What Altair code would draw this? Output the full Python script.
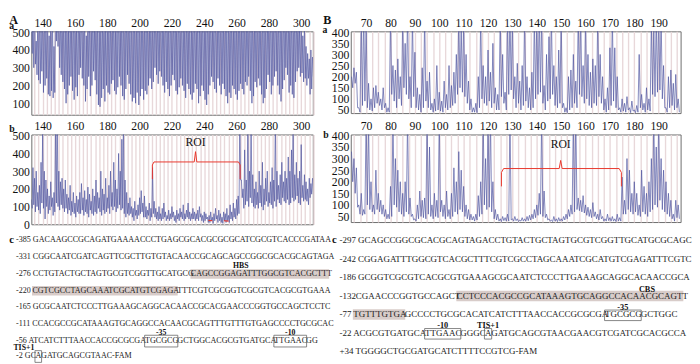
import altair as alt
import pandas as pd

SERIF = "Liberation Serif"
TRACE = "#5055a0"
STRIPE = "#e8d8da"
RED = "#e8352a"

# ---------------- electropherogram traces (peak at x, trough at x+0.5) ----------------
A_X0 = 133
Aa_peaks = [560, 620, 700, 450, 600, 680, 520, 640, 700, 580,
            650, 480, 600, 700, 420, 700, 720, 650, 600, 700,
            640, 580, 700, 520, 660, 600, 700, 640, 560, 700,
            620, 700, 580, 650, 480, 700, 600, 660, 700, 540,
            700, 620, 560, 680, 600, 700, 520, 640, 700, 600,
            660, 700, 580, 620, 700, 540, 680, 700, 600, 650,
            700, 600, 660, 520, 700, 640, 580, 700, 620, 680,
            600, 700, 640, 560, 700, 620, 680, 700, 600, 660,
            700, 580, 640, 700, 600, 660, 700, 540, 620, 700,
            640, 700, 600, 680, 560, 700, 620, 700, 650, 590,
            700, 640, 580, 700, 620, 680, 700, 600, 660, 700,
            620, 700, 560, 640, 700, 600, 680, 700, 620, 580,
            700, 640, 600, 700, 660, 580, 700, 620, 680, 700,
            600, 680, 700, 560, 640, 700, 620, 700, 580, 660,
            700, 620, 580, 700, 640, 700, 600, 660, 700, 620,
            680, 700, 600, 640, 700, 560, 680, 700, 620, 600,
            700, 640, 580, 700, 620, 660, 520, 600, 480, 560,
            420, 380, 350, 400, 360]
Aa_troughs = [380, 300, 320, 260, 230, 210, 280, 160, 200, 240,
              150, 140, 170, 130, 160, 450, 420, 300, 260, 220,
              180, 100, 150, 200, 250, 170, 120, 190, 140, 260,
              300, 240, 200, 110, 180, 250, 140, 200, 280, 230,
              150, 90, 80, 130, 180, 110, 200, 160, 150, 210,
              230, 170, 150, 190, 250, 200, 140, 120, 180, 260,
              210, 150, 110, 130, 100, 160, 90, 140, 180, 120,
              170, 150, 200, 240, 180, 220, 300, 260, 210, 280,
              250, 200, 160, 220, 180, 140, 200, 260, 230, 170,
              150, 190, 240, 200, 170, 130, 210, 180, 150, 120,
              160, 210, 180, 100, 140, 200, 170, 120, 90, 150,
              200, 250, 220, 180, 160, 240, 200, 150, 210, 180,
              140, 100, 160, 130, 200, 180, 150, 120, 170, 210,
              180, 150, 220, 200, 250, 170, 100, 140, 220, 190,
              240, 200, 150, 100, 130, 180, 260, 220, 150, 200,
              250, 280, 200, 150, 110, 180, 230, 300, 260, 160,
              200, 150, 130, 220, 280, 300, 250, 270, 220, 240,
              200, 240, 150, 180, 250]
Ab_peaks = [140, 320, 260, 300, 180, 220, 350, 520, 300, 250,
            200, 160, 240, 150, 180, 600, 650, 300, 240, 260,
            200, 250, 170, 150, 220, 130, 180, 120, 160, 140,
            180, 230, 150, 190, 140, 210, 170, 130, 200, 160,
            250, 180, 150, 300, 200, 170, 260, 150, 220, 300,
            180, 350, 250, 200, 400, 300, 480, 620, 250, 180,
            120, 150, 100, 90, 130, 80, 110, 150, 190, 120,
            160, 100, 80, 120, 90, 320, 130, 90, 70, 100,
            60, 90, 120, 70, 50, 80, 60, 100, 70, 50,
            80, 60, 90, 70, 110, 60, 80, 120, 70, 60,
            90, 70, 60, 80, 100, 60, 50, 70, 60, 40,
            50, 70, 40, 60, 90, 50, 80, 60, 40, 70,
            60, 90, 50, 110, 70, 120, 90, 140, 160, 620,
            250, 200, 420, 250, 650, 300, 620, 280, 200, 240,
            180, 300, 220, 350, 200, 260, 300, 180, 240, 320,
            250, 600, 300, 220, 280, 350, 240, 300, 260, 380,
            300, 420, 600, 280, 350, 260, 300, 450, 220, 280,
            240, 200, 260, 230, 260]
Ab_troughs = [90, 110, 70, 100, 80, 60, 120, 90, 30, 100,
              60, 80, 100, 50, 70, 120, 100, 80, 110, 90,
              70, 90, 60, 80, 50, 70, 60, 40, 70, 60,
              60, 80, 50, 70, 60, 40, 80, 60, 50, 70,
              60, 90, 70, 50, 80, 60, 70, 90, 60, 100,
              80, 100, 70, 90, 110, 80, 90, 60, 40, 60,
              50, 60, 40, 20, 50, 30, 50, 60, 70, 40,
              40, 30, 50, 20, 40, 60, 40, 30, 20, 30,
              20, 30, 40, 20, 30, 20, 30, 40, 20, 10,
              30, 20, 40, 30, 20, 30, 40, 30, 20, 30,
              30, 20, 30, 20, 40, 20, 10, 20, 30, 10,
              10, 20, 5, 20, 30, 10, 20, 10, 5, 20,
              10, 20, 10, 30, 20, 40, 30, 50, 60, 250,
              150, 90, 110, 130, 100, 150, 120, 100, 90, 110,
              90, 120, 100, 80, 110, 130, 100, 120, 110, 90,
              130, 100, 140, 120, 110, 150, 130, 120, 140, 110,
              120, 150, 130, 140, 160, 120, 110, 150, 130, 140,
              130, 110, 150, 170, 180]

B_X0 = 64
Ba_peaks = [200, 240, 220, 60, 480, 500, 450, 170, 100, 150,
            160, 130, 100, 150, 80, 60, 480, 250, 230, 280,
            200, 480, 350, 500, 200, 480, 310, 150, 120, 240,
            480, 180, 220, 80, 100, 250, 130, 90, 180, 120,
            250, 160, 220, 300, 480, 420, 460, 300, 180, 100,
            60, 80, 200, 480, 250, 200, 320, 220, 350, 150,
            120, 480, 300, 130, 480, 500, 460, 200, 260, 180,
            250, 480, 200, 150, 220, 480, 460, 500, 480, 160,
            300, 380, 480, 250, 200, 320, 480, 80, 60, 200,
            230, 300, 180, 480, 500, 250, 480, 300, 220, 280,
            250, 480, 300, 200, 100, 150, 330, 480, 330, 200,
            60, 100, 80, 110, 60, 90, 50, 70, 300, 120,
            80, 150, 100, 450, 420, 480, 500, 480, 250, 60,
            200, 230, 170, 210, 100]
Ba_troughs = [150, 170, 60, 40, 70, 90, 60, 50, 45, 60,
              80, 70, 50, 60, 40, 40, 120, 90, 60, 100,
              70, 150, 120, 100, 60, 110, 60, 50, 40, 60,
              90, 60, 50, 40, 45, 50, 45, 40, 60, 50,
              60, 70, 80, 120, 150, 130, 110, 80, 50, 40,
              40, 38, 60, 100, 80, 70, 90, 60, 80, 50,
              50, 110, 80, 50, 120, 140, 100, 60, 80, 50,
              70, 90, 60, 50, 60, 100, 120, 130, 80, 50,
              90, 100, 120, 70, 60, 80, 60, 40, 38, 50,
              60, 80, 60, 120, 110, 80, 100, 70, 60, 80,
              70, 110, 80, 50, 40, 50, 70, 90, 60, 50,
              40, 45, 40, 50, 38, 45, 38, 40, 60, 50,
              40, 50, 45, 120, 110, 130, 140, 100, 60, 40,
              60, 70, 50, 60, 40]
Bb_peaks = [330, 300, 260, 100, 150, 80, 480, 450, 200, 100,
            250, 150, 120, 100, 80, 60, 180, 480, 300, 250,
            200, 150, 200, 480, 130, 60, 40, 100, 160, 120,
            130, 480, 350, 100, 150, 120, 480, 120, 100, 160,
            80, 150, 260, 200, 330, 250, 180, 100, 80, 60,
            50, 60, 140, 200, 480, 300, 480, 480, 200, 80,
            60, 40, 50, 45, 60, 480, 40, 50, 40, 35,
            45, 40, 50, 55, 60, 80, 100, 150, 480, 160,
            60, 40, 35, 50, 40, 45, 40, 50, 60, 80,
            100, 480, 480, 130, 120, 140, 100, 90, 80, 110,
            70, 60, 80, 50, 40, 60, 45, 50, 40, 60,
            45, 220, 120, 300, 250, 150, 200, 150, 100, 250,
            180, 150, 200, 300, 480, 350, 480, 300, 250, 200,
            150, 120, 60, 120, 100]
Bb_troughs = [200, 150, 90, 60, 55, 60, 100, 80, 70, 60,
              80, 70, 60, 50, 40, 40, 50, 100, 90, 70,
              60, 50, 70, 60, 50, 35, 30, 40, 50, 45,
              40, 60, 50, 40, 50, 45, 70, 50, 40, 50,
              40, 50, 70, 60, 80, 70, 50, 40, 35, 35,
              30, 35, 50, 60, 100, 80, 90, 70, 40, 35,
              30, 28, 32, 30, 30, 35, 30, 32, 28, 30,
              30, 30, 32, 35, 40, 45, 55, 60, 50, 45,
              35, 30, 28, 30, 28, 30, 30, 35, 40, 50,
              60, 70, 80, 75, 70, 65, 55, 50, 45, 50,
              40, 35, 40, 30, 30, 32, 30, 30, 28, 30,
              30, 60, 60, 80, 70, 60, 70, 55, 50, 70,
              60, 50, 70, 80, 100, 90, 120, 80, 70, 60,
              50, 40, 30, 45, 40]

# ROI braces (x in base positions, y in signal units)
A_roi_x = [207.9, 207.9, 208.9, 233.8, 234.6, 235.4, 261.2, 262.2, 262.2]
A_roi_y = [255, 335, 352, 352, 410, 352, 352, 335, 255]
B_roi_x = [125.5, 125.5, 126.4, 149.2, 149.8, 150.4, 173.8, 174.7, 174.7]
B_roi_y = [180, 240, 257, 257, 292, 257, 257, 240, 180]
# short red trace pieces at the floor of panel A-b
A_red_x = [242.6, 245.0, 252.2, 255.0]
A_red_y = [22, 20, 20, 18]
A_red_g = [0, 0, 1, 1]

# ---------------- promoter sequences ----------------
A_seq = [
    [("-385 GACAAGCCGCAGATGAAAACCCTGAGCGCACGCGCGCATCGCGTCACCCGATAA", "")],
    [("-331 CGGCAATCGATCAGTTCGCTTGTGTACAACCGCAGCAGCCGGCGCACGCAGTAGA", "")],
    [("-276 CCTGTACTGCTAGTGCGTCGGTTGCATGCG", ""), ("CAGCCGGAGATTTGGCGTCACGCTTT", "hl")],
    [("-220 ", ""), ("CGTCGCCTAGCAAATCGCATGTCGAGA", "hl"), ("TTTCGTCGCGGTCGCGTCACGCGTGAAA", "")],
    [("-165 GCGCAATCTCCCTTGAAAGCAGGCACAACCGCACGAACCCGGTGCCAGCTCCTC", "")],
    [("-111 CCACGCCGCATAAAGTGCAGGCCACAACGCAGTTTGTTTGTGAGCCCCTGCGCAC", "")],
    [("-56 ATCATCTTTAACCACCGCGCGA", ""), ("TGCGCG", "box"), ("GCTGGCACGCGTGATGCA", ""),
     ("TTGAAC", "box"), ("GG", "")],
    [("-2 GC", ""), ("A", "box"), ("GATGCAGCGTAAC-FAM", "")],
]
B_seq = [
    [("-297 GCAGCCGGCGCACGCAGTAGACCTGTACTGCTAGTGCGTCGGTTGCATGCGCAGC", "")],
    [("-242 CGGAGATTTGGCGTCACGCTTTCGTCGCCTAGCAAATCGCATGTCGAGATTTCGTC", "")],
    [("-186 GCGGTCGCGTCACGCGTGAAAGCGCAATCTCCCTTGAAAGCAGGCACAACCGCA", "")],
    [("-132CGAACCCGGTGCCAGCT", ""), ("CCTCCCACGCCGCATAAAGTGCAGGCCACAACGCAGTT", "hl")],
    [("-77 ", ""), ("TGTTTGTGA", "hl"), ("GCCCCTGCGCACATCATCTTTAACCACCGCGCGA", ""),
     ("TGCGCG", "box"), ("GCTGGC", "")],
    [("-22 ACGCGTGATGCA", ""), ("TTGAAC", "box"), ("GGGC", ""), ("A", "box"),
     ("GATGCAGCGTAACGAACGTCGATCGCACGCCA", "")],
    [("+34 TGGGGCTGCGATGCATCTTTTCCGTCG-FAM", "")],
]
# bold annotations: text, line position, x (pixels from line start, or a box reference)
A_marks = [("HBS", 1.53, 231), ("-35", 5.5, "box0"), ("-10", 5.5, "box1"), ("TIS+1", 6.45, 8)]
B_marks = [("CBS", 2.6, 316), ("-35", 3.6, "box0"), ("-10", 4.6, "box1"), ("TIS+1", 4.6, "box2")]

# ---------------- helpers ----------------
EM = {"-": 0.333, "+": 0.564, " ": 0.25, "A": 0.722, "C": 0.667, "G": 0.722,
      "T": 0.611, "F": 0.556, "M": 0.889}
SQUEEZE = 0.97


def tw(s, fs):
    return sum(EM.get(ch, 0.5) for ch in s) * fs * SQUEEZE


def trace_frame(x0, peaks, troughs):
    xs, ys = [], []
    for i, (p, t) in enumerate(zip(peaks, troughs)):
        xs.extend([x0 + i, x0 + i + 0.5])
        ys.extend([p, t])
    return pd.DataFrame({"x": xs, "y": ys})


def one(txt):
    return pd.DataFrame({"t": [txt]})


def trace_panel(df, xdom, ydom, yvals, stripes, step, w, h, letters, roi=None, red=None):
    xsc = alt.Scale(domain=xdom, nice=False, zero=False)
    ysc = alt.Scale(domain=ydom, nice=False, zero=False)
    xax = alt.Axis(orient="top", values=stripes, grid=True, gridColor=STRIPE, gridWidth=1.4,
                   ticks=False, domain=False,
                   labelExpr=f"datum.value % {step} === 0 ? datum.label : ''",
                   labelOverlap=False, labelFlush=False, labelPadding=2, title=None)
    yax = alt.Axis(values=yvals, grid=False, ticks=False, domain=False, labelPadding=2,
                   labelOverlap=False, title=None)
    xe = alt.X("x:Q", scale=xsc, axis=xax)
    ye = alt.Y("y:Q", scale=ysc, axis=yax)
    layers = [alt.Chart(df).mark_line(clip=True, color=TRACE, strokeWidth=0.7).encode(x=xe, y=ye)]
    if red is not None:
        layers.append(alt.Chart(pd.DataFrame({"x": red[0], "y": red[1], "g": red[2]}))
                      .mark_line(color=RED, strokeWidth=1.2).encode(x=xe, y=ye, detail="g:N"))
    if roi is not None:
        bx, by, tx, ty = roi
        layers.append(alt.Chart(pd.DataFrame({"x": bx, "y": by}))
                      .mark_line(color=RED, strokeWidth=1).encode(x=xe, y=ye))
        layers.append(alt.Chart(pd.DataFrame({"x": [tx], "y": [ty], "t": ["ROI"]}))
                      .mark_text(font=SERIF, fontSize=12, color="#111", baseline="middle")
                      .encode(x=xe, y=ye, text="t:N"))
    for txt, px, py, fsz, bl in letters:
        layers.append(alt.Chart(one(txt)).mark_text(font=SERIF, fontWeight="bold", fontSize=fsz,
                                                    align="left", baseline=bl, color="#111")
                      .encode(x=alt.value(px), y=alt.value(py), text="t:N"))
    return alt.layer(*layers).properties(width=w, height=h)


def text_panel(seq, line_y, marks, fs, start_px, ydom, w, h, c_px, mfs, box_y):
    trows, hrows, brows = [], [], []
    for ly, segs in zip(line_y, seq):
        pos = 0.0
        for s, tag in segs:
            x0 = pos
            pos += tw(s, fs)
            trows.append({"x": x0, "y": ly, "t": s})
            if tag == "hl":
                hrows.append({"x": x0 - 0.4, "x2": pos + 0.4, "y": ly - 0.29, "y2": ly + 0.29})
            elif tag == "box":
                brows.append({"x": x0 - 0.5, "x2": pos + 0.5,
                              "y": ly + box_y[0], "y2": ly + box_y[1]})
    mrows = []
    for txt, my, mx in marks:
        if isinstance(mx, str):
            b = brows[int(mx[3:])]
            mx = (b["x"] + b["x2"]) / 2
        mrows.append({"x": mx, "y": my, "t": txt})
    # x: pixels measured from the start of the sequence lines
    xsc = alt.Scale(domain=[-start_px, w - start_px], nice=False, zero=False)
    ysc = alt.Scale(domain=ydom, nice=False, zero=False, reverse=True)
    xe = alt.X("x:Q", scale=xsc, axis=None)
    ye = alt.Y("y:Q", scale=ysc, axis=None)
    hl = alt.Chart(pd.DataFrame(hrows)).mark_rect(color="#d8ccc9").encode(
        x=xe, x2="x2:Q", y=ye, y2="y2:Q")
    tx = alt.Chart(pd.DataFrame(trows)).mark_text(
        font=SERIF, fontSize=fs, align="left", baseline="middle", color="#222").encode(
        x=xe, y=ye, text="t:N")
    bx = alt.Chart(pd.DataFrame(brows)).mark_rect(
        fillOpacity=0, stroke="#666", strokeWidth=0.8).encode(x=xe, x2="x2:Q", y=ye, y2="y2:Q")
    mk = alt.Chart(pd.DataFrame(mrows)).mark_text(
        font=SERIF, fontSize=mfs, fontWeight="bold", align="center", baseline="middle",
        color="#111").encode(x=xe, y=ye, text="t:N")
    c = alt.Chart(one("c")).mark_text(
        font=SERIF, fontSize=11, fontWeight="bold", align="left", baseline="middle",
        color="#111").encode(x=alt.value(c_px), y=alt.datum(line_y[0]), text="t:N")
    return alt.layer(hl, tx, bx, mk, c).properties(
        width=w, height=h, view=alt.ViewBackground(strokeWidth=0))


# ---------------- panels ----------------
A_W, B_W = 289.3, 339
A_stripes = [132.5 + 2.5 * k for k in range(71)]
B_stripes = [62.5 + 2.5 * k for k in range(55)]

Aa = trace_panel(trace_frame(A_X0, Aa_peaks, Aa_troughs), [133, 307.2], [35, 505],
                 [100, 200, 300, 400, 500], A_stripes, 20, A_W, 85.7,
                 [("A", -22.7, -18, 12.5, "top"), ("a", -22.7, -2.5, 10, "alphabetic")])
Ab = trace_panel(trace_frame(A_X0, Ab_peaks, Ab_troughs), [133, 307.2], [0, 507],
                 [0, 100, 200, 300, 400, 500], A_stripes, 20, A_W, 92.3,
                 [("b", -22.7, -3, 10, "alphabetic")],
                 roi=(A_roi_x, A_roi_y, 234.6, 466), red=(A_red_x, A_red_y, A_red_g))
Ba = trace_panel(trace_frame(B_X0, Ba_peaks, Ba_troughs), [63.7, 199], [36, 404],
                 [50, 100, 150, 200, 250, 300, 350, 400], B_stripes, 10, B_W, 84,
                 [("B", -28.3, -18, 12.5, "top"), ("a", -29, 2, 10, "alphabetic")])
Bb = trace_panel(trace_frame(B_X0, Bb_peaks, Bb_troughs), [63.7, 199], [26, 404],
                 [50, 100, 150, 200, 250, 300, 350, 400], B_stripes, 10, B_W, 90,
                 [("b", -28.3, 4, 10, "alphabetic")],
                 roi=(B_roi_x, B_roi_y, 149.8, 362))

Ac = text_panel(A_seq, [0, 1, 2, 3, 4, 5, 6, 6.92], A_marks, 8.3, -15.7,
                [4 / 17.2, 124 / 17.2], A_W, 120, -22.7, 8, (-0.34, 0.36))
Bc = text_panel(B_seq, [0, 1, 2, 3, 4, 5, 6], B_marks, 9.2, -11.6,
                [4 / 19, 124 / 19], B_W, 120, -19.3, 8.5, (-0.24, 0.33))

chart = alt.concat(Aa, Ba, Ab, Bb, Ac, Bc, columns=2, bounds="flush",
                   spacing=alt.RowColnumber(row=20, column=38.3)).properties(
    padding=0, background="white"
).configure_axis(
    labelFont=SERIF, labelFontSize=12, labelColor="#111"
).configure_view(stroke="#6b6b6b", strokeWidth=1)

chart.save("out.html", embed_options={"renderer": "svg", "actions": False})
